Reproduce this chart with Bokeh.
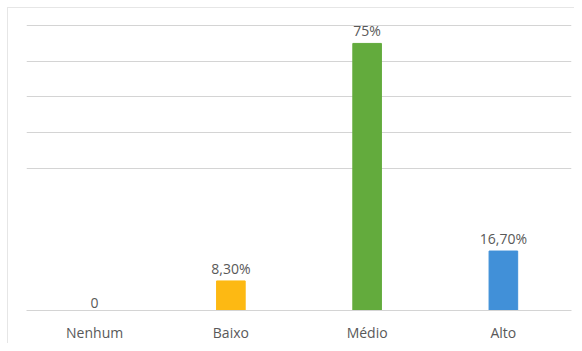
from bokeh.plotting import figure
from bokeh.models import ColumnDataSource, FixedTicker, Range1d
from bokeh.core.properties import value
from bokeh.embed import file_html
from bokeh.resources import INLINE

categories = ["Nenhum", "Baixo", "Médio", "Alto"]
values = [0, 8.3, 75, 16.7]
labels = ["0", "8,30%", "75%", "16,70%"]
colors = ["#FFC000", "#FDB913", "#63AB3D", "#4190D8"]
grid_ticks = [40, 50, 60, 70, 80]

source = ColumnDataSource(data=dict(cat=categories, val=values, lab=labels, col=colors))

p = figure(x_range=categories, y_range=Range1d(0, 82), width=567, height=336,
           output_backend="svg", toolbar_location=None,
           min_border_left=18, min_border_right=4, min_border_top=10, min_border_bottom=32)
p.styles = {"border-top": "1px solid #e6e6e6", "border-left": "1px solid #e6e6e6",
            "box-sizing": "border-box", "margin-left": "7px", "margin-top": "7px"}
p.outline_line_color = None
p.background_fill_color = "white"
p.border_fill_color = "white"

p.vbar(x="cat", top="val", width=0.21, color="col", source=source)
p.text(x="cat", y="val", text="lab", source=source, y_offset=-3,
       text_align="center", text_baseline="bottom", text_font_size="14px",
       text_color="#595959", text_font=value("Open Sans"))

p.yaxis.visible = False
p.ygrid.ticker = FixedTicker(ticks=grid_ticks)
p.ygrid.grid_line_color = "#d4d4d4"
p.ygrid.grid_line_width = 1
p.xgrid.grid_line_color = None

p.xaxis.axis_line_color = "#d4d4d4"
p.xaxis.major_tick_line_color = None
p.xaxis.minor_tick_line_color = None
p.xaxis.major_label_text_font = "Open Sans"
p.xaxis.major_label_text_font_size = "14px"
p.xaxis.major_label_text_color = "#595959"
p.xaxis.major_label_standoff = 6

open("out.html", "w").write(file_html(p, INLINE))
